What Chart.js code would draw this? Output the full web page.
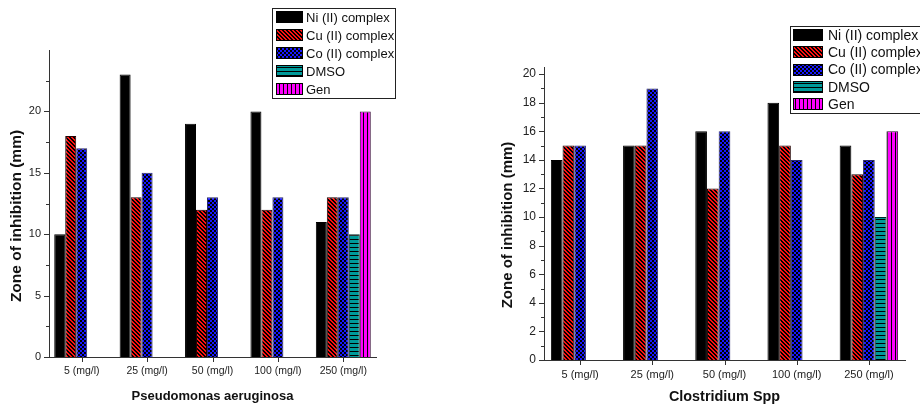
<!DOCTYPE html>
<html lang="en">
<head>
<meta charset="UTF-8" />
<title>Zone of inhibition</title>
<style>
  body { margin: 0; background: #fff; width: 920px; height: 408px; position: relative; overflow: hidden; }
  .box { position: absolute; top: 0; height: 408px; }
  #left { left: 0; width: 400px; }
  #right { left: 440px; width: 480px; }
</style>
</head>
<body>
<div class="box" id="left"><canvas id="paChart"></canvas></div>
<div class="box" id="right"><canvas id="csChart"></canvas></div>

<script src="https://cdn.jsdelivr.net/npm/chart.js"></script>
<script>
  // categories and series
  const doses = ['5 (mg/l)', '25 (mg/l)', '50 (mg/l)', '100 (mg/l)', '250 (mg/l)'];
  const seriesNames = ['Ni (II) complex', 'Cu (II) complex', 'Co (II) complex', 'DMSO', 'Gen'];

  // Pseudomonas aeruginosa
  const paNi   = [10, 23, 19, 20, 11];
  const paCu   = [18, 13, 12, 12, 13];
  const paCo   = [17, 15, 13, 13, 13];
  const paDmso = [null, null, null, null, 10];
  const paGen  = [null, null, null, null, 20];

  // Clostridium Spp
  const csNi   = [14, 15, 16, 18, 15];
  const csCu   = [15, 15, 12, 15, 13];
  const csCo   = [15, 19, 16, 14, 14];
  const csDmso = [null, null, null, null, 10];
  const csGen  = [null, null, null, null, 16];

  const paYTicks = [0, 5, 10, 15, 20];
  const csYTicks = [0, 2, 4, 6, 8, 10, 12, 14, 16, 18, 20];

  function makePattern(kind) {
    const c = document.createElement('canvas');
    const g = c.getContext('2d');
    if (kind === 'cu') {
      c.width = 4; c.height = 4;
      g.fillStyle = '#ff1010'; g.fillRect(0, 0, 4, 4);
      g.fillStyle = '#000';
      for (let i = 0; i < 4; i++) { g.fillRect(i, i, 1, 1); g.fillRect((i + 1) % 4, i, 1, 1); }
    } else if (kind === 'co') {
      c.width = 4; c.height = 4;
      g.fillStyle = '#1818ff'; g.fillRect(0, 0, 4, 4);
      g.fillStyle = '#000';
      g.fillRect(0, 0, 2, 2); g.fillRect(2, 2, 2, 2);
    } else if (kind === 'dmso') {
      c.width = 1; c.height = 4;
      g.fillStyle = '#009a9a'; g.fillRect(0, 0, 1, 4);
      g.fillStyle = '#000'; g.fillRect(0, 3, 1, 1);
    } else {
      c.width = 4; c.height = 1;
      g.fillStyle = '#ff00ff'; g.fillRect(0, 0, 4, 1);
      g.fillStyle = '#000'; g.fillRect(3, 0, 1, 1);
    }
    return g.createPattern(c, 'repeat');
  }

  const fills = ['#000000', makePattern('cu'), makePattern('co'), makePattern('dmso'), makePattern('gen')];
  const edges = ['#000000', '#220000', '#2a2a70', '#002a2a', '#300030'];

  // axis ticks (major + minor), titles and the boxed legend
  const originStyle = {
    id: 'originStyle',
    afterDraw(chart, args, o) {
      const ctx = chart.ctx;
      const x = chart.scales.x, y = chart.scales.y;
      const area = chart.chartArea;
      ctx.save();
      ctx.strokeStyle = '#333';
      ctx.lineWidth = 1;
      ctx.beginPath();
      for (let v = 0; v < y.max - 1e-6; v += o.minor) {
        const py = Math.round(y.getPixelForValue(v)) + 0.5;
        const major = Math.abs(v / o.major - Math.round(v / o.major)) < 1e-6;
        ctx.moveTo(area.left, py);
        ctx.lineTo(area.left - (major ? 5 : 3), py);
      }
      for (let i = 0; i < doses.length; i++) {
        const px = Math.round(x.getPixelForTick(i)) + 0.5;
        ctx.moveTo(px, area.bottom);
        ctx.lineTo(px, area.bottom + 5);
      }
      ctx.stroke();

      ctx.fillStyle = '#111';
      ctx.textAlign = 'center';
      ctx.textBaseline = 'middle';
      ctx.font = 'bold ' + o.xTitleSize + 'px "Liberation Sans", Arial, sans-serif';
      ctx.fillText(o.xTitle, (area.left + area.right) / 2, o.xTitleY);
      ctx.save();
      ctx.translate(o.yTitleX, o.yTitleY);
      ctx.rotate(-Math.PI / 2);
      ctx.font = 'bold ' + o.yTitleSize + 'px "Liberation Sans", Arial, sans-serif';
      ctx.fillText('Zone of inhibition (mm)', 0, 0);
      ctx.restore();

      const L = o.legend;
      ctx.fillStyle = '#fff';
      ctx.fillRect(L.x, L.y, L.w, L.h);
      ctx.strokeStyle = '#222';
      ctx.strokeRect(L.x + 0.5, L.y + 0.5, L.w, L.h);
      ctx.font = L.size + 'px "Liberation Sans", Arial, sans-serif';
      ctx.textAlign = 'left';
      chart.data.datasets.forEach((ds, i) => {
        const cy = L.first + i * L.step;
        ctx.fillStyle = ds.backgroundColor;
        ctx.fillRect(L.sx, Math.round(cy - L.sh / 2), L.sw, L.sh);
        ctx.strokeStyle = '#000';
        ctx.strokeRect(L.sx + 0.5, Math.round(cy - L.sh / 2) + 0.5, L.sw - 1, L.sh - 1);
        ctx.fillStyle = '#111';
        ctx.fillText(ds.label, L.tx, cy + 1);
      });
      ctx.restore();
    }
  };

  function buildChart(id, series, cfg) {
    return new Chart(document.getElementById(id), {
      type: 'bar',
      data: {
        labels: doses,
        datasets: series.map((vals, i) => ({
          label: seriesNames[i],
          data: vals,
          backgroundColor: fills[i],
          borderColor: edges[i],
          borderWidth: 1,
          barPercentage: 1.0,
          categoryPercentage: cfg.catPct
        }))
      },
      options: {
        responsive: false,
        animation: false,
        layout: { padding: { top: cfg.top, right: cfg.right, left: 0, bottom: 0 } },
        plugins: {
          legend: { display: false },
          tooltip: { enabled: false },
          originStyle: cfg.style
        },
        scales: {
          x: {
            grid: { display: false, drawTicks: false },
            border: { color: '#333', width: 1 },
            ticks: { color: '#222', font: { family: '"Liberation Sans", Arial', size: cfg.xFont }, padding: cfg.xPad, maxRotation: 0 },
            afterFit: s => { s.height = cfg.xHeight; }
          },
          y: {
            min: 0,
            max: cfg.yMax,
            grid: { display: false, drawTicks: false },
            border: { color: '#333', width: 1 },
            afterBuildTicks: s => { s.ticks = cfg.yTicks.map(v => ({ value: v })); },
            ticks: { color: '#222', font: { family: '"Liberation Sans", Arial', size: cfg.yFont }, padding: 8 },
            afterFit: s => { s.width = cfg.yWidth; }
          }
        }
      },
      plugins: [originStyle]
    });
  }

  const paCanvas = document.getElementById('paChart');
  paCanvas.width = 400; paCanvas.height = 408;
  const csCanvas = document.getElementById('csChart');
  csCanvas.width = 480; csCanvas.height = 408;

  buildChart('paChart', [paNi, paCu, paCo, paDmso, paGen], {
    catPct: 0.84, top: 50, right: 24, xHeight: 51, yWidth: 49, yMax: 25,
    yTicks: paYTicks, xFont: 10.5, yFont: 11, xPad: 8,
    style: {
      major: 5, minor: 2.5,
      xTitle: 'Pseudomonas aeruginosa', xTitleSize: 13, xTitleY: 396,
      yTitleX: 17, yTitleY: 216, yTitleSize: 15.5,
      legend: { x: 272, y: 8, w: 123, h: 90, sx: 276, sw: 27, sh: 12, tx: 306, first: 17, step: 18.1, size: 13 }
    }
  });

  buildChart('csChart', [csNi, csCu, csCo, csDmso, csGen], {
    catPct: 0.81, top: 67, right: 15, xHeight: 48, yWidth: 104, yMax: 20.5,
    yTicks: csYTicks, xFont: 11, yFont: 12, xPad: 8,
    style: {
      major: 2, minor: 1,
      xTitle: 'Clostridium Spp', xTitleSize: 14.4, xTitleY: 397,
      yTitleX: 68, yTitleY: 225, yTitleSize: 15,
      legend: { x: 350, y: 26, w: 160, h: 87, sx: 353, sw: 30, sh: 12, tx: 388, first: 35, step: 17.3, size: 14 }
    }
  });
</script>
</body>
</html>
